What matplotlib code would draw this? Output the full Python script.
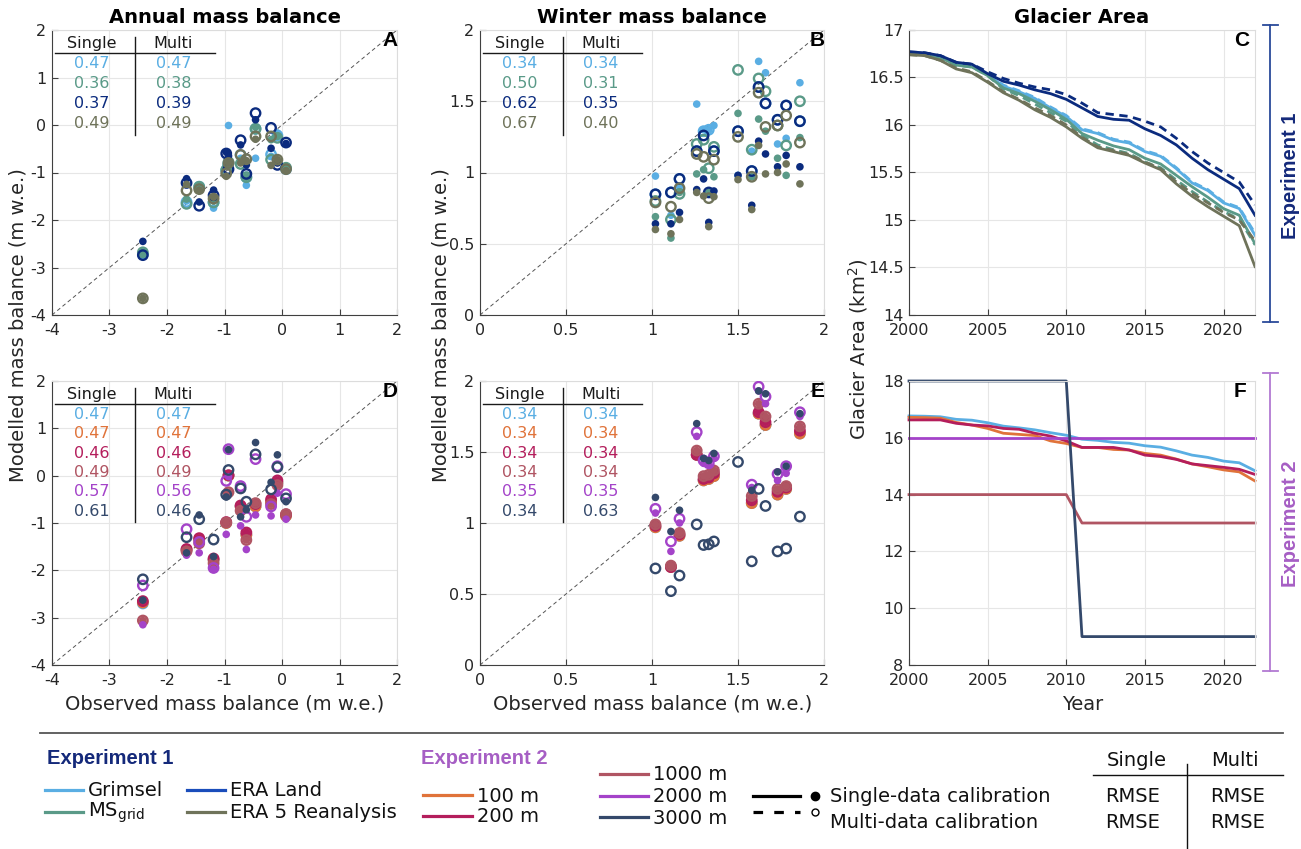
import numpy as np
import matplotlib
matplotlib.use('Agg')
import matplotlib.pyplot as plt
from matplotlib.lines import Line2D
from matplotlib.ticker import FuncFormatter

# ---------------- DATA ----------------
# Annual mass balance: observed (x) and modelled (y)
ann_obs = [-2.42, -1.66, -1.44, -1.19, -0.97, -0.93, -0.72, -0.62, -0.46, -0.19, -0.08, 0.07]
# Experiment 1 (panel A)
a_grimsel_s = [-2.72, -1.60, -1.35, -1.75, -0.85, -0.01, -0.70, -1.27, -0.70, -0.66, -0.17, -0.90]
a_grimsel_m = [-2.72, -1.62, -1.30, -1.63, -0.95, -0.80, -0.63, -1.10, -0.08, -0.62, -0.22, -0.93]
a_ms_s = [-2.68, -1.56, -1.30, -1.60, -0.83, -0.75, -0.74, -1.10, -0.05, -0.31, -0.24, -0.87]
a_ms_m = [-2.68, -1.66, -1.30, -1.63, -0.95, -0.78, -0.82, -1.10, -0.08, -0.73, -0.27, -0.90]
a_eraland_s = [-2.45, -1.13, -1.62, -1.37, -0.57, -0.65, -0.42, -0.84, 0.11, -0.49, -0.80, -0.39]
a_eraland_m = [-2.74, -1.22, -1.70, -1.48, -0.60, -0.93, -0.32, -1.03, 0.25, -0.06, -0.84, -0.37]
a_era5_s = [-3.65, -1.25, -1.37, -1.52, -1.08, -0.80, -0.80, -0.75, -0.30, -0.85, -0.73, -0.96]
a_era5_m = [-3.65, -1.38, -1.35, -1.55, -1.02, -0.80, -0.63, -0.72, -0.24, -0.24, -0.73, -0.93]
# Experiment 2 (panel D)
d_grimsel_s = [-2.70, -1.57, -1.35, -1.78, -1.00, 0.00, -0.65, -1.25, -0.65, -0.55, -0.15, -0.85]
d_grimsel_m = [-2.70, -1.57, -1.35, -1.78, -1.00, 0.00, -0.65, -1.25, -0.65, -0.55, -0.15, -0.85]
d_100_s = [-2.68, -1.57, -1.35, -1.78, -1.00, 0.00, -0.65, -1.25, -0.65, -0.55, -0.15, -0.85]
d_100_m = [-2.68, -1.57, -1.35, -1.78, -1.00, 0.00, -0.65, -1.25, -0.65, -0.55, -0.15, -0.85]
d_200_s = [-2.65, -1.55, -1.32, -1.75, -0.98, 0.01, -0.63, -1.20, -0.60, -0.50, -0.10, -0.82]
d_200_m = [-2.65, -1.55, -1.32, -1.75, -0.98, 0.01, -0.63, -1.20, -0.60, -0.50, -0.10, -0.82]
d_1000_s = [-3.06, -1.60, -1.43, -1.85, -0.99, -0.35, -0.74, -1.36, -0.58, -0.60, -0.20, -0.81]
d_1000_m = [-3.06, -1.60, -1.43, -1.85, -0.99, -0.35, -0.74, -1.36, -0.58, -0.60, -0.20, -0.81]
d_2000_s = [-3.15, -1.68, -1.63, -1.98, -1.24, -0.02, -1.06, -1.56, -0.83, -0.85, -0.37, -0.92]
d_2000_m = [-2.32, -1.13, -1.40, -1.95, -0.11, 0.56, -0.22, -0.87, 0.35, -0.65, 0.20, -0.39]
d_3000_s = [-2.63, -1.63, -0.83, -1.71, -0.45, 0.55, -0.87, -0.72, 0.70, -0.14, 0.44, -0.55]
d_3000_m = [-2.19, -1.30, -0.92, -1.35, -0.40, 0.12, -0.27, -0.55, 0.45, -0.29, 0.18, -0.48]

# Winter mass balance
win_obs = [1.02, 1.11, 1.16, 1.26, 1.30, 1.33, 1.36, 1.50, 1.58, 1.62, 1.66, 1.73, 1.78, 1.86]
b_grimsel_s = [0.975, 0.70, 0.90, 1.48, 1.30, 1.30, 1.33, 0.98, 1.15, 1.78, 1.70, 1.20, 1.24, 1.63]
b_grimsel_m = [0.847, 0.86, 0.955, 1.15, 1.29, 1.30, 1.15, 1.29, 1.01, 1.60, 1.485, 1.37, 1.47, 1.36]
b_ms_s = [0.69, 0.54, 0.86, 0.99, 1.02, 0.86, 0.97, 1.415, 0.97, 1.375, 1.29, 1.10, 0.98, 1.245]
b_ms_m = [0.80, 0.67, 0.85, 1.20, 1.23, 1.03, 1.18, 1.72, 1.16, 1.66, 1.57, 1.33, 1.19, 1.50]
b_eraland_s = [0.64, 0.64, 0.72, 0.88, 0.955, 0.65, 0.87, 0.98, 0.77, 1.22, 1.13, 1.04, 1.12, 1.04]
b_eraland_m = [0.847, 0.86, 0.955, 1.15, 1.26, 0.86, 1.15, 1.29, 1.01, 1.60, 1.485, 1.37, 1.47, 1.36]
b_era5_s = [0.60, 0.57, 0.67, 0.86, 0.835, 0.62, 0.83, 0.95, 0.74, 1.19, 0.99, 1.00, 1.06, 0.92]
b_era5_m = [0.79, 0.76, 0.89, 1.13, 1.11, 0.82, 1.09, 1.25, 0.97, 1.56, 1.32, 1.33, 1.40, 1.21]
nan = float('nan')
e_grimsel_s = [0.97, 0.69, 0.91, 1.48, 1.30, 1.31, 1.33, nan, 1.14, 1.77, 1.69, 1.20, 1.24, 1.63]
e_grimsel_m = [0.97, 0.69, 0.91, 1.48, 1.30, 1.31, 1.33, nan, 1.14, 1.77, 1.69, 1.20, 1.24, 1.63]
e_100_s = [0.97, 0.69, 0.91, 1.48, 1.30, 1.31, 1.33, nan, 1.14, 1.77, 1.69, 1.20, 1.24, 1.63]
e_100_m = [0.97, 0.69, 0.91, 1.48, 1.30, 1.31, 1.33, nan, 1.14, 1.77, 1.69, 1.20, 1.24, 1.63]
e_200_s = [0.98, 0.69, 0.92, 1.48, 1.31, 1.32, 1.35, nan, 1.16, 1.78, 1.71, 1.22, 1.25, 1.65]
e_200_m = [0.98, 0.69, 0.92, 1.48, 1.31, 1.32, 1.35, nan, 1.16, 1.78, 1.71, 1.22, 1.25, 1.65]
e_1000_s = [0.99, 0.70, 0.93, 1.51, 1.33, 1.34, 1.37, nan, 1.19, 1.84, 1.75, 1.24, 1.26, 1.68]
e_1000_m = [0.99, 0.70, 0.93, 1.51, 1.33, 1.34, 1.37, nan, 1.19, 1.84, 1.75, 1.24, 1.26, 1.68]
e_2000_s = [1.07, 0.80, 1.00, 1.61, 1.42, 1.41, 1.455, nan, 1.25, 1.93, 1.84, 1.30, 1.35, 1.75]
e_2000_m = [1.10, 0.87, 1.03, 1.64, 1.44, 1.42, 1.47, nan, 1.27, 1.96, 1.89, 1.345, 1.40, 1.78]
e_3000_s = [1.18, 0.94, 1.09, 1.70, 1.455, 1.44, 1.49, nan, 1.23, 1.93, 1.91, 1.36, 1.40, 1.77]
e_3000_m = [0.68, 0.52, 0.63, 0.99, 0.845, 0.85, 0.87, 1.43, 0.73, 1.24, 1.12, 0.80, 0.82, 1.045]

# Glacier area time series
years = list(range(2000, 2023))
c_grimsel_s = [16.76, 16.75, 16.72, 16.65, 16.62, 16.53, 16.41, 16.35, 16.28, 16.18, 16.09, 15.95, 15.91, 15.84, 15.81, 15.72, 15.67, 15.54, 15.39, 15.31, 15.18, 15.12, 14.84]
c_grimsel_m = [16.76, 16.75, 16.72, 16.65, 16.62, 16.53, 16.42, 16.36, 16.29, 16.19, 16.10, 15.96, 15.92, 15.85, 15.82, 15.73, 15.68, 15.55, 15.40, 15.32, 15.19, 15.13, 14.86]
c_ms_s = [16.75, 16.74, 16.71, 16.63, 16.61, 16.52, 16.39, 16.33, 16.25, 16.16, 16.06, 15.91, 15.84, 15.78, 15.74, 15.65, 15.59, 15.47, 15.35, 15.24, 15.12, 15.05, 14.75]
c_ms_m = [16.75, 16.74, 16.71, 16.63, 16.61, 16.52, 16.38, 16.31, 16.22, 16.13, 16.04, 15.89, 15.79, 15.74, 15.70, 15.61, 15.55, 15.42, 15.30, 15.19, 15.09, 15.01, 14.74]
c_eraland_s = [16.77, 16.76, 16.73, 16.66, 16.64, 16.54, 16.46, 16.42, 16.37, 16.33, 16.27, 16.18, 16.09, 16.06, 16.05, 15.96, 15.89, 15.79, 15.65, 15.53, 15.43, 15.33, 15.05]
c_eraland_m = [16.77, 16.76, 16.73, 16.66, 16.64, 16.56, 16.49, 16.44, 16.40, 16.37, 16.32, 16.23, 16.13, 16.11, 16.09, 16.04, 15.98, 15.86, 15.72, 15.60, 15.50, 15.40, 15.16]
c_era5_s = [16.74, 16.73, 16.68, 16.59, 16.55, 16.45, 16.34, 16.26, 16.16, 16.08, 15.98, 15.86, 15.76, 15.72, 15.68, 15.60, 15.53, 15.38, 15.25, 15.14, 15.04, 14.94, 14.51]
c_era5_m = [16.74, 16.73, 16.68, 16.60, 16.56, 16.46, 16.35, 16.27, 16.18, 16.10, 16.00, 15.87, 15.77, 15.73, 15.69, 15.61, 15.54, 15.40, 15.28, 15.18, 15.08, 15.00, 14.78]
f_grimsel = [16.77, 16.76, 16.74, 16.65, 16.62, 16.53, 16.41, 16.35, 16.28, 16.18, 16.09, 15.95, 15.91, 15.84, 15.81, 15.72, 15.67, 15.54, 15.39, 15.31, 15.18, 15.12, 14.84]
f_100 = [16.72, 16.71, 16.69, 16.54, 16.45, 16.33, 16.16, 16.12, 16.08, 15.89, 15.80, 15.66, 15.66, 15.59, 15.57, 15.45, 15.39, 15.25, 15.08, 14.98, 14.87, 14.80, 14.48]
f_200 = [16.63, 16.63, 16.63, 16.51, 16.45, 16.42, 16.33, 16.30, 16.16, 16.06, 15.89, 15.66, 15.66, 15.66, 15.57, 15.39, 15.34, 15.24, 15.08, 15.02, 14.96, 14.89, 14.71]
f_1000 = [14, 14, 14, 14, 14, 14, 14, 14, 14, 14, 14, 13, 13, 13, 13, 13, 13, 13, 13, 13, 13, 13, 13]
f_2000 = [16, 16, 16, 16, 16, 16, 16, 16, 16, 16, 16, 16, 16, 16, 16, 16, 16, 16, 16, 16, 16, 16, 16]
f_3000 = [18, 18, 18, 18, 18, 18, 18, 18, 18, 18, 18, 9, 9, 9, 9, 9, 9, 9, 9, 9, 9, 9, 9]

# RMSE tables
rmse_A = [("0.47", "0.47"), ("0.36", "0.38"), ("0.37", "0.39"), ("0.49", "0.49")]
rmse_B = [("0.34", "0.34"), ("0.50", "0.31"), ("0.62", "0.35"), ("0.67", "0.40")]
rmse_D = [("0.47", "0.47"), ("0.47", "0.47"), ("0.46", "0.46"), ("0.49", "0.49"), ("0.57", "0.56"), ("0.61", "0.46")]
rmse_E = [("0.34", "0.34"), ("0.34", "0.34"), ("0.34", "0.34"), ("0.34", "0.34"), ("0.35", "0.35"), ("0.34", "0.63")]

# colours
C_GRIM = '#5AAEE3'
C_MS = '#5A9A88'
C_EL = '#0B2B7E'
C_E5 = '#6F735A'
C_100 = '#E0733A'
C_200 = '#B41E5C'
C_1000 = '#B05563'
C_2000 = '#A443C9'
C_3000 = '#34496B'
EXP1_C = '#14297A'
EXP2_C = '#A65EC4'

# ---------------- FIGURE ----------------
W, H = 1301, 849
plt.rcParams['font.family'] = ['DejaVu Sans']
fig = plt.figure(figsize=(W / 100, H / 100), dpi=100)

def box(l, t, r, b):
    return [l / W, 1 - b / H, (r - l) / W, (b - t) / H]

def fxy(x, y):
    return x / W, 1 - y / H

fmt = FuncFormatter(lambda v, p: '%g' % v)

def style(ax):
    ax.grid(True, color='#e6e6e6', lw=0.8)
    ax.set_axisbelow(True)
    for s in ['left', 'bottom']:
        ax.spines[s].set_color('#404040')
        ax.spines[s].set_linewidth(0.8)
    for s in ['top', 'right']:
        ax.spines[s].set_color('#dcdcdc')
        ax.spines[s].set_linewidth(0.8)
    ax.tick_params(direction='in', length=4, width=0.8, colors='#404040',
                   labelcolor='#262626', labelsize=11.5, pad=4)
    ax.tick_params(axis='x', pad=6)
    ax.xaxis.set_major_formatter(fmt)
    ax.yaxis.set_major_formatter(fmt)

def scat(ax, x, ys, ym, c):
    ax.scatter(x, ys, s=30, color=c, edgecolors='none', zorder=3)
    ax.scatter(x, ym, s=46, facecolors='none', edgecolors=c, linewidths=1.7, zorder=3)

def table(ax, rows, colors):
    ax.text(0.115, 0.953, 'Single', transform=ax.transAxes, ha='center', va='center', fontsize=11.5, color='#1a1a1a')
    ax.text(0.352, 0.953, 'Multi', transform=ax.transAxes, ha='center', va='center', fontsize=11.5, color='#1a1a1a')
    ax.plot([0.008, 0.472], [0.918, 0.918], transform=ax.transAxes, color='#1a1a1a', lw=1, clip_on=False)
    y0, dy = 0.882, 0.0705
    if len(rows) > 4:
        dy = 0.068
    for i, ((s, m), c) in enumerate(zip(rows, colors)):
        y = y0 - i * dy
        ax.text(0.115, y, s, transform=ax.transAxes, ha='center', va='center', fontsize=11.5, color=c)
        ax.text(0.352, y, m, transform=ax.transAxes, ha='center', va='center', fontsize=11.5, color=c)
    ybot = y0 - (len(rows) - 1) * dy - 0.04
    ax.plot([0.24, 0.24], [0.977, ybot], transform=ax.transAxes, color='#1a1a1a', lw=1, clip_on=False)

def letter(ax, t, x=0.98):
    ax.text(x, 0.962, t, transform=ax.transAxes, ha='center', va='center', fontsize=15,
            fontweight='bold', family='Liberation Sans')

def title(ax, t):
    ax.set_title(t, fontsize=14, fontweight='bold', pad=5)

axA = fig.add_axes(box(52, 30, 397, 315))
axB = fig.add_axes(box(480, 30, 824, 315))
axC = fig.add_axes(box(909, 30, 1255, 315))
axD = fig.add_axes(box(52, 381, 397, 665))
axE = fig.add_axes(box(480, 381, 824, 665))
axF = fig.add_axes(box(909, 381, 1255, 665))

# --- A ---
ax = axA
style(ax)
ax.set_xlim(-4, 2); ax.set_ylim(-4, 2)
ax.set_xticks(range(-4, 3)); ax.set_yticks(range(-4, 3))
ax.plot([-4, 2], [-4, 2], ls=(0, (4, 3)), color='#555555', lw=0.7, zorder=2)
for x_s, x_m, c in [(a_grimsel_s, a_grimsel_m, C_GRIM), (a_ms_s, a_ms_m, C_MS),
                    (a_eraland_s, a_eraland_m, C_EL), (a_era5_s, a_era5_m, C_E5)]:
    scat(ax, ann_obs, x_s, x_m, c)
table(ax, rmse_A, [C_GRIM, C_MS, C_EL, C_E5])
letter(ax, 'A')
title(ax, 'Annual mass balance')

# --- B ---
ax = axB
style(ax)
ax.set_xlim(0, 2); ax.set_ylim(0, 2)
ax.set_xticks(np.arange(0, 2.01, 0.5)); ax.set_yticks(np.arange(0, 2.01, 0.5))
ax.plot([0, 2], [0, 2], ls=(0, (4, 3)), color='#555555', lw=0.7, zorder=2)
for x_s, x_m, c in [(b_grimsel_s, b_grimsel_m, C_GRIM), (b_ms_s, b_ms_m, C_MS),
                    (b_eraland_s, b_eraland_m, C_EL), (b_era5_s, b_era5_m, C_E5)]:
    scat(ax, win_obs, x_s, x_m, c)
table(ax, rmse_B, [C_GRIM, C_MS, C_EL, C_E5])
letter(ax, 'B')
title(ax, 'Winter mass balance')

# --- C ---
ax = axC
style(ax)
ax.set_xlim(2000, 2022); ax.set_ylim(14, 17)
ax.set_xticks(range(2000, 2021, 5)); ax.set_yticks(np.arange(14, 17.01, 0.5))
dash = (0, (3, 2))
for s_, m_, c in [(c_grimsel_s, c_grimsel_m, C_GRIM), (c_ms_s, c_ms_m, C_MS),
                  (c_eraland_s, c_eraland_m, C_EL), (c_era5_s, c_era5_m, C_E5)]:
    ax.plot(years, m_, color=c, lw=2, ls=dash)
    ax.plot(years, s_, color=c, lw=2)
letter(ax, 'C', 0.962)
title(ax, 'Glacier Area')

# --- D ---
ax = axD
style(ax)
ax.set_xlim(-4, 2); ax.set_ylim(-4, 2)
ax.set_xticks(range(-4, 3)); ax.set_yticks(range(-4, 3))
ax.plot([-4, 2], [-4, 2], ls=(0, (4, 3)), color='#555555', lw=0.7, zorder=2)
for x_s, x_m, c in [(d_grimsel_s, d_grimsel_m, C_GRIM), (d_100_s, d_100_m, C_100),
                    (d_200_s, d_200_m, C_200), (d_1000_s, d_1000_m, C_1000),
                    (d_2000_s, d_2000_m, C_2000), (d_3000_s, d_3000_m, C_3000)]:
    scat(ax, ann_obs, x_s, x_m, c)
table(ax, rmse_D, [C_GRIM, C_100, C_200, C_1000, C_2000, C_3000])
letter(ax, 'D')

# --- E ---
ax = axE
style(ax)
ax.set_xlim(0, 2); ax.set_ylim(0, 2)
ax.set_xticks(np.arange(0, 2.01, 0.5)); ax.set_yticks(np.arange(0, 2.01, 0.5))
ax.plot([0, 2], [0, 2], ls=(0, (4, 3)), color='#555555', lw=0.7, zorder=2)
for x_s, x_m, c in [(e_grimsel_s, e_grimsel_m, C_GRIM), (e_100_s, e_100_m, C_100),
                    (e_200_s, e_200_m, C_200), (e_1000_s, e_1000_m, C_1000),
                    (e_2000_s, e_2000_m, C_2000), (e_3000_s, e_3000_m, C_3000)]:
    scat(ax, win_obs, x_s, x_m, c)
table(ax, rmse_E, [C_GRIM, C_100, C_200, C_1000, C_2000, C_3000])
letter(ax, 'E')

# --- F ---
ax = axF
style(ax)
ax.set_xlim(2000, 2022); ax.set_ylim(8, 18)
ax.set_xticks(range(2000, 2021, 5)); ax.set_yticks(range(8, 19, 2))
for s_, c in [(f_grimsel, C_GRIM), (f_100, C_100), (f_200, C_200),
              (f_1000, C_1000), (f_2000, C_2000), (f_3000, C_3000)]:
    ax.plot(years, s_, color=c, lw=2, clip_on=False)
letter(ax, 'F', 0.957)

# --- shared labels ---
lab_fs = 14
fig.text(*fxy(18, 325), 'Modelled mass balance (m w.e.)', rotation=90, ha='center', va='center', fontsize=lab_fs, color='#262626')
fig.text(*fxy(441, 325), 'Modelled mass balance (m w.e.)', rotation=90, ha='center', va='center', fontsize=lab_fs, color='#262626')
fig.text(*fxy(858, 349), 'Glacier Area (km$^2$)', rotation=90, ha='center', va='center', fontsize=lab_fs, color='#262626')
fig.text(*fxy(225, 704), 'Observed mass balance (m w.e.)', ha='center', va='center', fontsize=lab_fs, color='#262626')
fig.text(*fxy(653, 704), 'Observed mass balance (m w.e.)', ha='center', va='center', fontsize=lab_fs, color='#262626')
fig.text(*fxy(1083, 704), 'Year', ha='center', va='center', fontsize=lab_fs, color='#262626')

def fline(x0, y0, x1, y1, **kw):
    (a, b), (c, d) = fxy(x0, y0), fxy(x1, y1)
    fig.add_artist(Line2D([a, c], [b, d], transform=fig.transFigure, **kw))

exp_font = ['Liberation Sans Narrow', 'Liberation Sans']

# experiment brackets
for (t0, t1, col, tcol, label) in [(25, 322, '#2A4A9A', EXP1_C, 'Experiment 1'),
                                   (373, 671, '#B27AD2', EXP2_C, 'Experiment 2')]:
    fline(1270, t0, 1270, t1, color=col, lw=1.3)
    fline(1263, t0, 1278, t0, color=col, lw=1.3)
    fline(1263, t1, 1278, t1, color=col, lw=1.3)
    fig.text(*fxy(1290, (t0 + t1) / 2 + 2), label, rotation=90, ha='center', va='center',
             fontsize=14.5, fontweight='bold', color=tcol, family=exp_font)

# ---- bottom legend ----
fline(40, 733, 1283, 733, color='#555555', lw=1.3)
leg_fs = 14
fig.text(*fxy(47, 759), 'Experiment 1', ha='left', va='center', fontsize=14.5, fontweight='bold',
         color=EXP1_C, family=exp_font)
fig.text(*fxy(421, 758), 'Experiment 2', ha='left', va='center', fontsize=14.5, fontweight='bold',
         color=EXP2_C, family=exp_font)

def leg_item(x0, x1, y, col, label, ls='-'):
    fline(x0, y, x1, y, color=col, lw=2.3, ls=ls)
    fig.text(*fxy(x1 + 5, y + 1), label, ha='left', va='center', fontsize=leg_fs, color='#111111')

leg_item(45, 83, 790, C_GRIM, 'Grimsel')
leg_item(45, 83, 812, C_MS, 'MS$_{\\mathrm{grid}}$')
leg_item(187, 225, 790, '#1A4DBB', 'ERA Land')
leg_item(187, 225, 812, C_E5, 'ERA 5 Reanalysis')
leg_item(423, 472, 795, C_100, '100 m')
leg_item(423, 472, 816, C_200, '200 m')
leg_item(600, 648, 774, C_1000, '1000 m')
leg_item(600, 648, 796, C_2000, '2000 m')
leg_item(600, 648, 817, C_3000, '3000 m')

fline(753, 796, 800, 796, color='black', lw=2.3)
fline(753, 812, 800, 812, color='black', lw=2.3, ls=(0, (3, 3.5)))
fig.add_artist(Line2D([fxy(815, 0)[0]], [fxy(0, 796)[1]], transform=fig.transFigure,
                      marker='o', ms=6, color='black', ls='none'))
fig.add_artist(Line2D([fxy(815, 0)[0]], [fxy(0, 812)[1]], transform=fig.transFigure,
                      marker='o', ms=5, mfc='white', mec='black', mew=1, ls='none'))
fig.text(*fxy(830, 797), 'Single-data calibration', ha='left', va='center', fontsize=leg_fs, color='#111111')
fig.text(*fxy(830, 822), 'Multi-data calibration', ha='left', va='center', fontsize=leg_fs, color='#111111')

# legend table
fig.text(*fxy(1137, 760), 'Single', ha='center', va='center', fontsize=leg_fs, color='#111111')
fig.text(*fxy(1235, 760), 'Multi', ha='center', va='center', fontsize=leg_fs, color='#111111')
fline(1093, 775, 1283, 775, color='#111111', lw=1)
fline(1187, 764, 1187, 848, color='#111111', lw=1)
for yy in (797, 823):
    fig.text(*fxy(1133, yy), 'RMSE', ha='center', va='center', fontsize=leg_fs, color='#111111')
    fig.text(*fxy(1238, yy), 'RMSE', ha='center', va='center', fontsize=leg_fs, color='#111111')

fig.savefig('out.png', dpi=100)
